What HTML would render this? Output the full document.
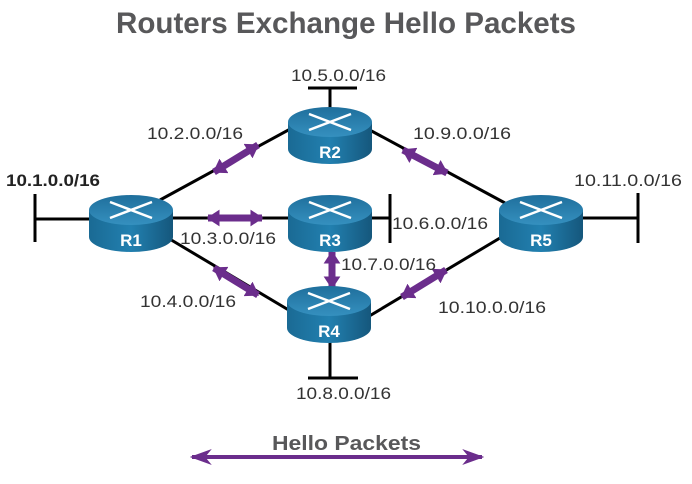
<!DOCTYPE html>
<html><head><meta charset="utf-8"><style>
html,body{margin:0;padding:0;background:#fff;}
svg{display:block;font-family:"Liberation Sans",sans-serif;}
</style></head><body>
<svg width="692" height="484" viewBox="0 0 692 484" xmlns="http://www.w3.org/2000/svg">
<defs>
<linearGradient id="side" x1="0" y1="0" x2="1" y2="0">
<stop offset="0" stop-color="#1a6a94"/><stop offset="0.5" stop-color="#2280b0"/><stop offset="1" stop-color="#15577c"/>
</linearGradient>
<linearGradient id="top" x1="0" y1="0" x2="0" y2="1">
<stop offset="0" stop-color="#1f6f9c"/><stop offset="1" stop-color="#3590bf"/>
</linearGradient>
<marker id="ah" viewBox="0 0 10 10" refX="9" refY="5" markerUnits="userSpaceOnUse" markerWidth="13" markerHeight="17" preserveAspectRatio="none" orient="auto-start-reverse"><path d="M0,0 L10,5 L0,10 Z" fill="#6b2d8c"/></marker>
<marker id="lh" viewBox="0 0 10 10" refX="9" refY="5" markerUnits="userSpaceOnUse" markerWidth="22" markerHeight="16" preserveAspectRatio="none" orient="auto-start-reverse"><path d="M0,0 L10,5 L0,10 L3,5 Z" fill="#6b2d8c"/></marker>
<g id="x"><g stroke="#fff" stroke-width="2.5" fill="none"><line x1="-21" y1="-8" x2="-6" y2="-2"/><line x1="21" y1="8" x2="6" y2="2"/><line x1="-21" y1="8" x2="-6" y2="2"/><line x1="21" y1="-8" x2="6" y2="-2"/></g></g>
</defs>
<text x="346" y="33" text-anchor="middle" font-size="30" font-weight="bold" fill="#58585a" textLength="460" lengthAdjust="spacingAndGlyphs">Routers Exchange Hello Packets</text>

<g stroke="#000" stroke-width="3" fill="none">
<line x1="35" y1="194" x2="35" y2="242"/><line x1="35" y1="219" x2="95" y2="219"/>
<line x1="160" y1="200" x2="292" y2="128"/>
<line x1="168" y1="238" x2="292" y2="312"/>
<line x1="170" y1="218" x2="292" y2="218"/>
<line x1="366" y1="128" x2="505" y2="203"/>
<line x1="366" y1="318" x2="505" y2="235"/>
<line x1="370" y1="218" x2="390" y2="218"/><line x1="390" y1="194" x2="390" y2="243"/>
<line x1="580" y1="218" x2="638" y2="218"/><line x1="638" y1="193" x2="638" y2="243"/>
<line x1="330" y1="110" x2="330" y2="88"/><line x1="308" y1="88" x2="357" y2="88"/>
<line x1="330" y1="340" x2="330" y2="378"/><line x1="308" y1="378" x2="358" y2="378"/>
<line x1="330" y1="250" x2="330" y2="290"/>
</g>

<g stroke="#6b2d8c" stroke-width="7" marker-start="url(#ah)" marker-end="url(#ah)">
<line x1="214" y1="172" x2="258" y2="145"/>
<line x1="208" y1="218" x2="262" y2="218"/>
<line x1="403" y1="150" x2="447" y2="173"/>
<line x1="332" y1="252" x2="332" y2="288"/>
<line x1="214" y1="268" x2="258" y2="295"/>
<line x1="402" y1="297" x2="446" y2="270"/>
</g>

<g>
<g transform="translate(131,210)">
<path d="M-42,0 L-42,27 A42,15 0 0 0 42,27 L42,0 Z" fill="url(#side)"/>
<ellipse cx="0" cy="0" rx="42" ry="15" fill="url(#top)"/>
<g stroke="#fff" stroke-width="2.5"><line x1="-21" y1="-8" x2="21" y2="8"/><line x1="-21" y1="8" x2="21" y2="-8"/></g>
<text x="0" y="36" text-anchor="middle" font-size="17" font-weight="bold" fill="#fff">R1</text>
</g>
<g transform="translate(330,122)">
<path d="M-42,0 L-42,27 A42,15 0 0 0 42,27 L42,0 Z" fill="url(#side)"/>
<ellipse cx="0" cy="0" rx="42" ry="15" fill="url(#top)"/>
<g stroke="#fff" stroke-width="2.5"><line x1="-21" y1="-8" x2="21" y2="8"/><line x1="-21" y1="8" x2="21" y2="-8"/></g>
<text x="0" y="36" text-anchor="middle" font-size="17" font-weight="bold" fill="#fff">R2</text>
</g>
<g transform="translate(330,210)">
<path d="M-42,0 L-42,27 A42,15 0 0 0 42,27 L42,0 Z" fill="url(#side)"/>
<ellipse cx="0" cy="0" rx="42" ry="15" fill="url(#top)"/>
<g stroke="#fff" stroke-width="2.5"><line x1="-21" y1="-8" x2="21" y2="8"/><line x1="-21" y1="8" x2="21" y2="-8"/></g>
<text x="0" y="36" text-anchor="middle" font-size="17" font-weight="bold" fill="#fff">R3</text>
</g>
<g transform="translate(329,301)">
<path d="M-42,0 L-42,27 A42,15 0 0 0 42,27 L42,0 Z" fill="url(#side)"/>
<ellipse cx="0" cy="0" rx="42" ry="15" fill="url(#top)"/>
<g stroke="#fff" stroke-width="2.5"><line x1="-21" y1="-8" x2="21" y2="8"/><line x1="-21" y1="8" x2="21" y2="-8"/></g>
<text x="0" y="36" text-anchor="middle" font-size="17" font-weight="bold" fill="#fff">R4</text>
</g>
<g transform="translate(541,210)">
<path d="M-42,0 L-42,27 A42,15 0 0 0 42,27 L42,0 Z" fill="url(#side)"/>
<ellipse cx="0" cy="0" rx="42" ry="15" fill="url(#top)"/>
<g stroke="#fff" stroke-width="2.5"><line x1="-21" y1="-8" x2="21" y2="8"/><line x1="-21" y1="8" x2="21" y2="-8"/></g>
<text x="0" y="36" text-anchor="middle" font-size="17" font-weight="bold" fill="#fff">R5</text>
</g>
</g>

<g font-size="17" fill="#333">
<text x="6" y="186" font-weight="bold" fill="#222" textLength="94" lengthAdjust="spacingAndGlyphs">10.1.0.0/16</text>
<text x="291" y="81" textLength="95" lengthAdjust="spacingAndGlyphs">10.5.0.0/16</text>
<text x="147" y="139" textLength="96" lengthAdjust="spacingAndGlyphs">10.2.0.0/16</text>
<text x="413" y="139" textLength="98" lengthAdjust="spacingAndGlyphs">10.9.0.0/16</text>
<text x="574" y="186" textLength="108" lengthAdjust="spacingAndGlyphs">10.11.0.0/16</text>
<text x="180" y="244" textLength="96" lengthAdjust="spacingAndGlyphs">10.3.0.0/16</text>
<text x="392" y="229" textLength="96" lengthAdjust="spacingAndGlyphs">10.6.0.0/16</text>
<text x="341" y="270" textLength="95" lengthAdjust="spacingAndGlyphs">10.7.0.0/16</text>
<text x="140" y="307" textLength="96" lengthAdjust="spacingAndGlyphs">10.4.0.0/16</text>
<text x="438" y="313" textLength="108" lengthAdjust="spacingAndGlyphs">10.10.0.0/16</text>
<text x="296" y="399" textLength="95" lengthAdjust="spacingAndGlyphs">10.8.0.0/16</text>
</g>
<text x="272" y="450" font-size="20" font-weight="bold" fill="#58585a" textLength="149" lengthAdjust="spacingAndGlyphs">Hello Packets</text>
<line x1="192" y1="457" x2="482" y2="457" stroke="#6b2d8c" stroke-width="4" marker-start="url(#lh)" marker-end="url(#lh)"/>
</svg>
</body></html>
